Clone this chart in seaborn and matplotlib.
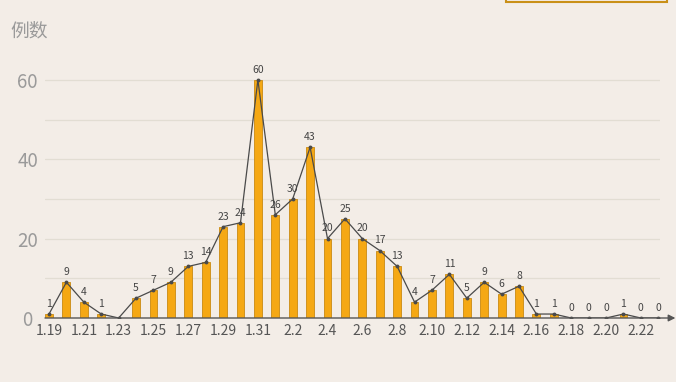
import numpy as np
import pandas as pd
import seaborn as sns
import matplotlib.pyplot as plt
from matplotlib.patches import Rectangle

# Daily case counts, 1.19 - 2.23
dates = ['1.19', '1.20', '1.21', '1.22', '1.23', '1.24', '1.25', '1.26', '1.27', '1.28',
         '1.29', '1.30', '1.31', '2.1', '2.2', '2.3', '2.4', '2.5', '2.6', '2.7', '2.8',
         '2.9', '2.10', '2.11', '2.12', '2.13', '2.14', '2.15', '2.16', '2.17', '2.18',
         '2.19', '2.20', '2.21', '2.22', '2.23']
counts = [1, 9, 4, 1, 0, 5, 7, 9, 13, 14, 23, 24, 60, 26, 30, 43, 20, 25, 20, 17, 13,
          4, 7, 11, 5, 9, 6, 8, 1, 1, 0, 0, 0, 1, 0, 0]
show_label = [c != 0 or i >= 30 for i, c in enumerate(counts)]
y_ticks = [0, 20, 40, 60]
y_label = '例数'

bg = '#f3ede7'
bar_color = '#f5a814'

sns.set_theme(style='white')
plt.rcParams['font.family'] = ['Noto Sans CJK SC', 'DejaVu Sans']

df = pd.DataFrame({'date': dates, 'count': counts, 'pos': np.arange(len(dates))})

fig = plt.figure(figsize=(6.76, 3.82), dpi=100, facecolor=bg)
ax = fig.add_axes([45 / 676, 64 / 382, 615 / 676, 262 / 382])
ax.set_facecolor(bg)

sns.barplot(data=df, x='date', y='count', color=bar_color, width=0.45,
            edgecolor='#c98a12', linewidth=0.6, saturation=1, ax=ax, zorder=2)
sns.lineplot(data=df, x='pos', y='count', color='#4a4a4a', linewidth=0.9,
             marker='o', markersize=2.8, markeredgewidth=0, ax=ax, zorder=3)

for i, c in enumerate(counts):
    if show_label[i]:
        ax.text(i, c + 1.3, str(c), ha='center', va='bottom', fontsize=7.5, color='#444444')

ax.set_xlim(-0.23, 35.1)
ax.set_ylim(0, 66)
ax.set_xticks(np.arange(0, len(dates), 2))
ax.set_xticklabels(dates[::2], fontsize=10, color='#555555')
ax.set_yticks(y_ticks)
ax.set_yticklabels([str(v) for v in y_ticks], fontsize=13.5, color='#9a9a9a', ha='center')
ax.set_yticks([10, 30, 50], minor=True)
ax.tick_params(axis='x', length=0, pad=4)
ax.tick_params(axis='y', length=0, pad=12.5)
ax.grid(axis='y', which='both', color='#e2ddd3', linewidth=0.9, zorder=0)
ax.set_axisbelow(True)
ax.set_xlabel('')
ax.set_ylabel('')
for s in ax.spines.values():
    s.set_visible(False)

# x axis with arrow head
ax.annotate('', xy=(1.025, 0), xycoords=('axes fraction', 'data'),
            xytext=(0, 0), textcoords=('axes fraction', 'data'),
            arrowprops=dict(arrowstyle='-|>', color='#555555', lw=1.0,
                            mutation_scale=10, shrinkA=0, shrinkB=0),
            annotation_clip=False, zorder=4)

fig.text(10 / 676, 1 - 31 / 382, y_label, fontsize=13.5, color='#9a9a9a', va='center', ha='left')

# cut-off legend box at the top right
fig.patches.append(Rectangle((506 / 676, 1 - 2 / 382), 161 / 676, 0.05,
                             transform=fig.transFigure, facecolor=bg,
                             edgecolor='#c99018', linewidth=1.5, clip_on=False))

fig.savefig('out.png', dpi=100, facecolor=bg)
